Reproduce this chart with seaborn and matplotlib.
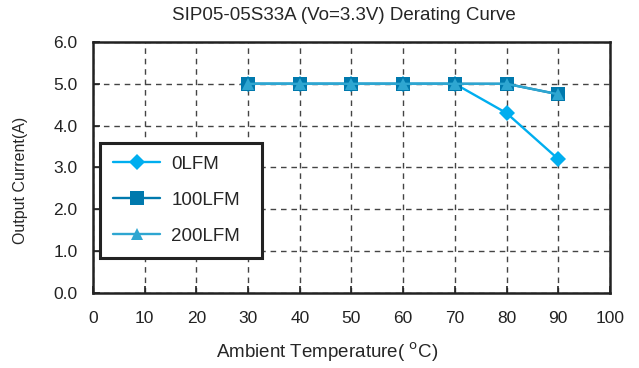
import pandas as pd
import numpy as np
import matplotlib
matplotlib.use("Agg")
import matplotlib.pyplot as plt
import seaborn as sns

# Data
temps = [30, 40, 50, 60, 70, 80, 90]
current_0lfm = [5.0, 5.0, 5.0, 5.0, 5.0, 4.3, 3.2]
current_100lfm = [5.0, 5.0, 5.0, 5.0, 5.0, 5.0, 4.75]
current_200lfm = [5.0, 5.0, 5.0, 5.0, 5.0, 5.0, 4.75]
series_names = ["0LFM", "100LFM", "200LFM"]
x_ticks = list(range(0, 101, 10))
y_ticks = [0.0, 1.0, 2.0, 3.0, 4.0, 5.0, 6.0]

df = pd.DataFrame({
    "temp": temps * 3,
    "current": current_0lfm + current_100lfm + current_200lfm,
    "airflow": np.repeat(series_names, len(temps)),
})

sns.set_style("ticks")
plt.rcParams["font.family"] = ["Liberation Sans", "DejaVu Sans"]

fig = plt.figure(figsize=(6.39, 3.68), dpi=100)
ax = fig.add_axes([0.1455, 0.2038, 0.8091, 0.6821])

palette = {"0LFM": "#00aeef", "100LFM": "#0079ad", "200LFM": "#2ea6d1"}
markers = {"0LFM": "D", "100LFM": "s", "200LFM": "^"}
sizes = {"0LFM": 8, "100LFM": 10, "200LFM": 9}

for name in series_names:
    sub = df[df["airflow"] == name]
    sns.lineplot(data=sub, x="temp", y="current", ax=ax, color=palette[name],
                 marker=markers[name], markersize=sizes[name], markeredgewidth=0,
                 linewidth=1.7, label=name)

ax.set_xlim(0, 100)
ax.set_ylim(0, 6)
ax.set_xticks(x_ticks)
ax.set_yticks(y_ticks)
ax.set_yticklabels([f"{v:.1f}" for v in y_ticks])
ax.tick_params(direction="in", length=5, width=1.2, labelsize=12.5, colors="#222222")
ax.tick_params(axis="x", pad=13)
ax.tick_params(axis="y", pad=11)
ax.grid(True, linestyle=(0, (4, 3.5)), color="#444444", linewidth=1)
for s in ax.spines.values():
    s.set_linewidth(1.8)
    s.set_color("#222222")

ax.set_title("SIP05-05S33A (Vo=3.3V) Derating Curve", fontsize=13.5, pad=16, x=0.485)
ax.set_xlabel("Ambient Temperature( $^{\\mathrm{o}}$C)", fontsize=13.5)
ax.set_ylabel("Output Current(A)", fontsize=11.5)
ax.yaxis.set_label_coords(-0.125, 0.45)
ax.xaxis.set_label_coords(0.453, -0.19)

leg = ax.legend(loc="lower left", bbox_to_anchor=(0.014, 0.14, 0.313, 0.5),
                mode="expand", fontsize=13.5, frameon=True, fancybox=False,
                borderpad=0.7, labelspacing=1.0, handlelength=2.5,
                handletextpad=0.6, borderaxespad=0)
leg.get_frame().set_edgecolor("#222222")
leg.get_frame().set_linewidth(2.2)
leg.get_frame().set_alpha(1)

fig.savefig("out.png", dpi=100)
